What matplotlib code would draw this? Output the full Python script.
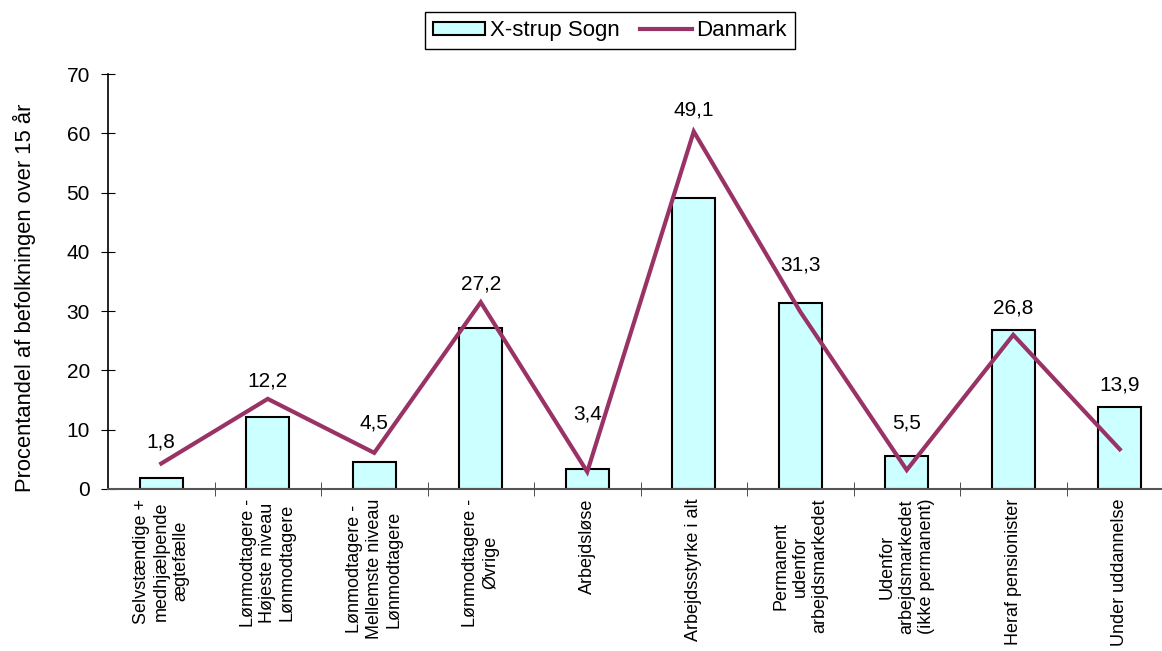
#søjle + linje diagram, np, plt
import numpy as np
import matplotlib.pyplot as plt

plt.rcParams['font.family'] = ['Liberation Sans', 'DejaVu Sans']

## data ################
categories = ["Selvstændige +\nmedhjælpende\nægtefælle",
              "Lønmodtagere -\nHøjeste niveau\nLønmodtagere",
              "Lønmodtagere -\nMellemste niveau\nLønmodtagere",
              "Lønmodtagere -\nØvrige",
              "Arbejdsløse",
              "Arbejdsstyrke i alt",
              "Permanent\nudenfor\narbejdsmarkedet",
              "Udenfor\narbejdsmarkedet\n(ikke permanent)",
              "Heraf pensionister",
              "Under uddannelse"]
sogn = [1.8, 12.2, 4.5, 27.2, 3.4, 49.1, 31.3, 5.5, 26.8, 13.9]
danmark = [4.3, 15.2, 6.1, 31.5, 2.9, 60.3, 29.9, 3.2, 26.0, 6.7]
yticks = [0, 10, 20, 30, 40, 50, 60, 70]

#ekstra løft af værdi-etiketter (punkter), flyttet manuelt i originalen
label_nudge = [0, -3, 6, -3, 24, 0, 12, 8, 0, 0]

fig = plt.figure(figsize=(11.62, 6.51), dpi=100)
#akserne går lidt ud over højre kant, som i originalen
ax = fig.add_axes([108/1162, 1-489/651, (1173-108)/1162, (489-74)/651])

x = np.arange(len(categories))
bars = ax.bar(x, sogn, width=0.4, color='#CCFFFF', edgecolor='black',
              linewidth=1.5, label='X-strup Sogn', zorder=2)
line, = ax.plot(x, danmark, color='#993366', lw=3, label='Danmark',
                zorder=3, solid_joinstyle='miter')

#værdier over søjlerne (komma som decimaltegn)
for i, v in enumerate(sogn):
    top = max(v, danmark[i])
    ax.annotate(f"{v:.1f}".replace('.', ','), (i, top),
                xytext=(0, 9 + label_nudge[i]), textcoords='offset points',
                ha='center', va='bottom', fontsize=15, zorder=4)

#akser
ax.set_xlim(-0.5, len(categories) - 0.5)
ax.set_ylim(0, 70)
ax.set_yticks(yticks)
ax.set_xticks(x)
ax.set_xticklabels(categories, rotation=90, ha='center', va='top',
                   multialignment='center', fontsize=13)
ax.set_xticks(np.arange(0.5, len(categories) - 0.5, 1), minor=True)
ax.tick_params(axis='x', which='major', length=0, pad=7)
ax.tick_params(axis='x', which='minor', length=10, direction='inout',
               color='#303030')
ax.tick_params(axis='y', labelsize=15, length=10, direction='inout', pad=8)
ax.set_ylabel('Procentandel af befolkningen over 15 år', fontsize=15.8,
              labelpad=22)
ax.yaxis.label.set_y(0.46)

ax.spines['top'].set_visible(False)
ax.spines['right'].set_visible(False)
ax.spines['bottom'].set_color('#555555')
ax.spines['bottom'].set_linewidth(1.5)
ax.spines['left'].set_linewidth(1.2)

#signaturforklaring
leg = fig.legend(handles=[bars, line], loc='center',
                 bbox_to_anchor=(0.525, 0.953), ncol=2, fontsize=16,
                 frameon=True, fancybox=False, edgecolor='black',
                 framealpha=1, handlelength=2.35, handleheight=0.5,
                 handletextpad=0.2, columnspacing=0.9, borderpad=0.35)
leg.get_frame().set_linewidth(1.0)

fig.savefig('out.png', dpi=100)
